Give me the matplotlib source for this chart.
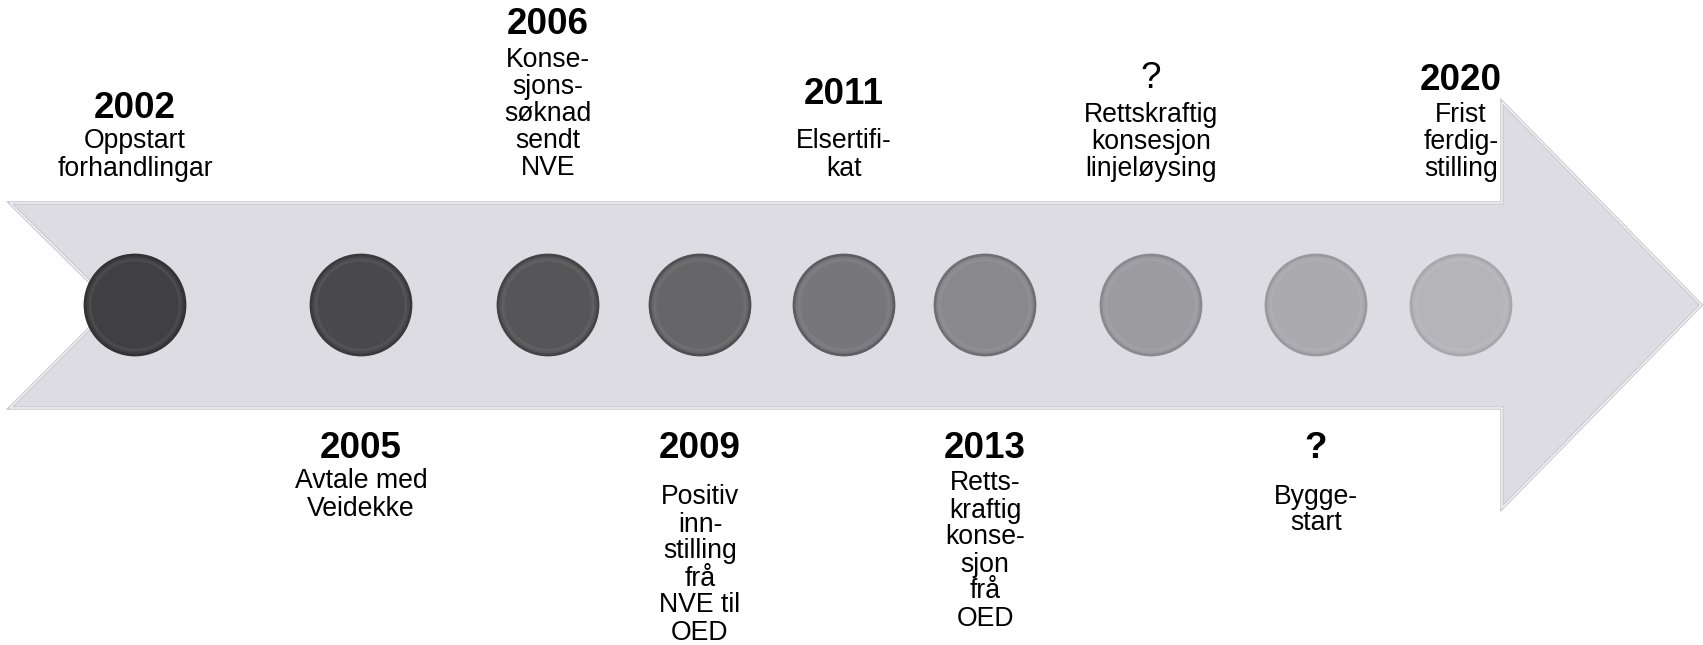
import matplotlib
matplotlib.use("Agg")
import matplotlib.pyplot as plt
from matplotlib.patches import Polygon, Circle

plt.rcParams['font.family'] = ['Liberation Sans', 'DejaVu Sans']

# milestones (left to right along the arrow)
years = ["2002", "2005", "2006", "2009", "2011", "2013", "?", "?", "2020"]
year_bold = [True, True, True, True, True, True, False, True, True]
texts = [
    "Oppstart\nforhandlingar",
    "Avtale med\nVeidekke",
    "Konse-\nsjons-\nsøknad\nsendt\nNVE",
    "Positiv\ninn-\nstilling\nfrå\nNVE til\nOED",
    "Elsertifi-\nkat",
    "Retts-\nkraftig\nkonse-\nsjon\nfrå\nOED",
    "Rettskraftig\nkonsesjon\nlinjeløysing",
    "Bygge-\nstart",
    "Frist\nferdig-\nstilling",
]

# layout in pixels
xpos = [135, 361, 548, 700, 844, 985, 1151, 1316, 1461]
year_y = [109, 449, 25, 449, 94, 449, 79, 449, 80]
text_y = [155, 495, 114, 565, 155, 551, 142, 510, 142]
circle_colors = ["#404043", "#49494c", "#565659", "#666669", "#77777b",
                 "#89898d", "#9c9ca0", "#aaaaae", "#b5b5b9"]
edge_colors = ["#333336", "#3a3a3d", "#444447", "#505053", "#5e5e62",
               "#707074", "#8a8a8e", "#9a9a9e", "#a8a8ac"]

fig = plt.figure(figsize=(17.03, 6.45), dpi=100)
ax = fig.add_axes([0, 0, 1, 1])
ax.set_xlim(0, 1703)
ax.set_ylim(645, 0)
ax.axis('off')

# big arrow
cy = 305
arrow = [(10, 203), (1502, 203), (1502, 102), (1701, cy), (1502, 508),
         (1502, 408), (10, 408), (113, cy)]
ax.add_patch(Polygon(arrow, closed=True, facecolor='#dcdce2',
                     edgecolor='#c8c8ce', linewidth=2.5, zorder=1))
ax.add_patch(Polygon(arrow, closed=True, facecolor='none',
                     edgecolor='#f4f4f7', linewidth=1.0, zorder=1.1))

# circles
for x, c, e in zip(xpos, circle_colors, edge_colors):
    ax.add_patch(Circle((x, cy), 50, facecolor=c, edgecolor=e,
                        linewidth=2, zorder=2))
    ax.add_patch(Circle((x, cy), 45, facecolor='none', edgecolor='white',
                        linewidth=2, alpha=0.06, zorder=3))

# labels
for x, yr, b, yy, t, ty in zip(xpos, years, year_bold, year_y, texts, text_y):
    ax.text(x, yy, yr, ha='center', va='center', fontsize=26.5,
            fontweight='bold' if b else 'normal', color='black', zorder=4)
    ax.text(x, ty, t, ha='center', va='center', fontsize=19.2,
            linespacing=1.05, color='black', zorder=4)

fig.savefig("out.png", dpi=100)
